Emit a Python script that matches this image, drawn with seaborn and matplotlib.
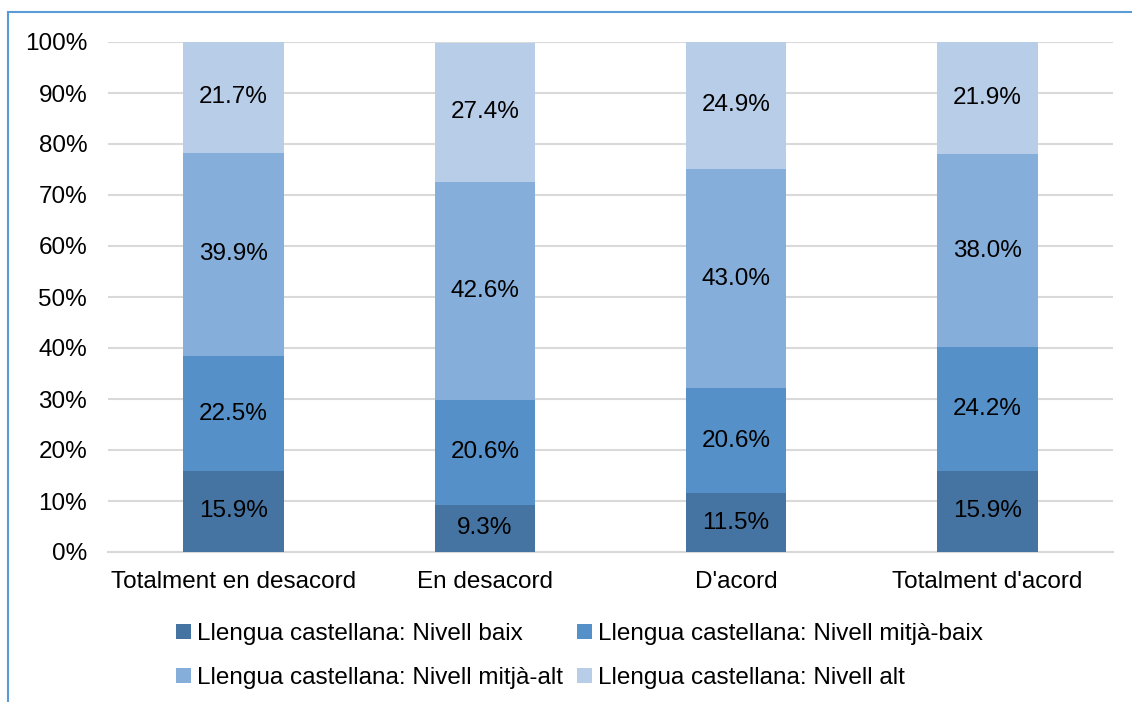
import pandas as pd
import matplotlib.pyplot as plt
import seaborn as sns
from matplotlib.patches import Patch, Rectangle

# Categories and values (percent)
categories = ['Totalment en desacord', 'En desacord', "D'acord", "Totalment d'acord"]
series_names = ['Llengua castellana: Nivell baix',
                'Llengua castellana: Nivell mitjà-baix',
                'Llengua castellana: Nivell mitjà-alt',
                'Llengua castellana: Nivell alt']
baix = [15.9, 9.3, 11.5, 15.9]
mitja_baix = [22.5, 20.6, 20.6, 24.2]
mitja_alt = [39.9, 42.6, 43.0, 38.0]
alt = [21.7, 27.4, 24.9, 21.9]
colors = ['#4674a2', '#5590c8', '#86aedb', '#b8cde8']

sns.set_style('white')
plt.rcParams['font.family'] = ['Liberation Sans', 'DejaVu Sans']

fs = 17.5
fig = plt.figure(figsize=(11.32, 7.02), dpi=100)
ax = fig.add_axes([108 / 1132, 1 - 552 / 702, (1113 - 108) / 1132, 510 / 702])

df = pd.DataFrame({'cat': categories, 'baix': baix, 'mitja_baix': mitja_baix,
                   'mitja_alt': mitja_alt, 'alt': alt})
cols = ['baix', 'mitja_baix', 'mitja_alt', 'alt']
bottom = [0.0] * len(categories)
for col, color in zip(cols, colors):
    sns.barplot(data=df, x='cat', y=col, color=color, width=0.4,
                bottom=bottom, ax=ax, saturation=1, zorder=3,
                edgecolor='none', linewidth=0)
    bottom = [b + v for b, v in zip(bottom, df[col])]

for cont in ax.containers:
    ax.bar_label(cont, labels=[f'{v:.1f}%' for v in cont.datavalues],
                 label_type='center', fontsize=fs, color='#000000')

ax.set_ylim(0, 100)
ax.set_yticks(range(0, 101, 10))
ax.set_yticklabels([f'{t}%' for t in range(0, 101, 10)])
ax.set_xlim(-0.5, 3.5)
ax.set_xlabel('')
ax.set_ylabel('')
ax.grid(axis='y', color='#d9d9d9', linewidth=1.5, zorder=0)
ax.set_axisbelow(True)
for s in ['left', 'right', 'top']:
    ax.spines[s].set_visible(False)
ax.spines['bottom'].set_color('#d9d9d9')
ax.spines['bottom'].set_linewidth(1.5)
ax.tick_params(axis='both', length=0, labelsize=fs, colors='#000000')
ax.tick_params(axis='y', pad=15)
ax.tick_params(axis='x', pad=14)

# Legend: row 1 baix / mitjà-baix, row 2 mitjà-alt / alt
handles = [Patch(facecolor=c, edgecolor='none') for c in colors]
order = [0, 2, 1, 3]
fig.legend([handles[i] for i in order], [series_names[i] for i in order],
           ncol=2, loc='upper left', bbox_to_anchor=(176 / 1132, 1 - 623 / 702),
           frameon=False, fontsize=fs, handlelength=0.6, handleheight=0.6,
           handletextpad=0.25, columnspacing=0.6, labelspacing=0.9,
           borderaxespad=0, borderpad=0, labelcolor='#000000')

# Outer chart border (partially visible)
fig.patches.append(Rectangle((8 / 1132, -0.1), 1.2, 1 - 12 / 702 + 0.1,
                             transform=fig.transFigure, fill=False,
                             edgecolor='#5b9bd5', linewidth=1.5, clip_on=False))

fig.savefig('out.png', dpi=100)
